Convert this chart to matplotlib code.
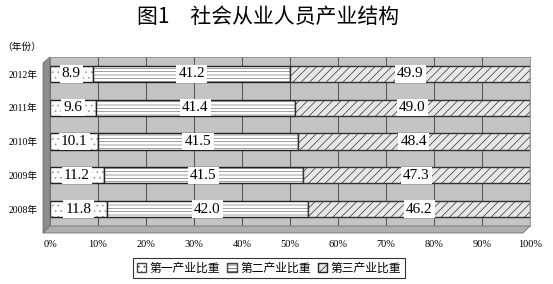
import matplotlib as mpl
import numpy as np
import matplotlib.pyplot as plt
from matplotlib.patches import Polygon, Patch

years = ['2008年', '2009年', '2010年', '2011年', '2012年']
primary = [11.8, 11.2, 10.1, 9.6, 8.9]
secondary = [42.0, 41.5, 41.5, 41.4, 41.2]
tertiary = [46.2, 47.3, 48.4, 49.0, 49.9]
series_names = ['第一产业比重', '第二产业比重', '第三产业比重']
xtick_vals = list(range(0, 101, 10))

plt.rcParams['font.family'] = ['Noto Sans CJK SC', 'DejaVu Sans']
mpl.rcParams['hatch.linewidth'] = 0.5
serif_cjk = ['Liberation Serif', 'Noto Sans CJK SC']

dpi = 100
fig = plt.figure(dpi=dpi, figsize=(553 / dpi, 284 / dpi))
W, H = 553.0, 284.0
ax = fig.add_axes([50 / W, 1 - 226 / H, 480 / W, 169 / H])
ax.set_facecolor('#c4c4c4')

# fake 3d side wall and floor
fig.patches.append(Polygon([[43 / W, 1 - 233 / H], [50 / W, 1 - 226 / H],
                            [50 / W, 1 - 57 / H], [43 / W, 1 - 63 / H]],
                           closed=True, transform=fig.transFigure,
                           facecolor='#8c8c8c', edgecolor='#707070', lw=0.6))
fig.patches.append(Polygon([[43 / W, 1 - 233 / H], [523 / W, 1 - 233 / H],
                            [530 / W, 1 - 226 / H], [50 / W, 1 - 226 / H]],
                           closed=True, transform=fig.transFigure,
                           facecolor='#b0b0b0', edgecolor='#707070', lw=0.6))

y = np.arange(len(years))
h = 0.48
p = np.array(primary)
s = np.array(secondary)
t = np.array(tertiary)

ax.barh(y, p, h, color='white', edgecolor='#999999', hatch='...', lw=0, zorder=3)
ax.barh(y, p, h, color='none', edgecolor='#222222', lw=1.0, zorder=3)
ax.barh(y, s, h, left=p, color='white', edgecolor='#777777', hatch='-----', lw=0, zorder=3)
ax.barh(y, s, h, left=p, color='none', edgecolor='#222222', lw=1.0, zorder=3)
ax.barh(y, t, h, left=p + s, color='#e8e8e8', edgecolor='#333333', hatch='////', lw=1.0, zorder=3)

box = dict(boxstyle='square,pad=0.15', facecolor='white', edgecolor='none')
for i in range(len(years)):
    for left, val in ((0, p[i]), (p[i], s[i]), (p[i] + s[i], t[i])):
        ax.text(left + val / 2, y[i], '%.1f' % val, ha='center', va='center',
                fontsize=11, family='Liberation Serif', bbox=box, zorder=5)

ax.set_xlim(0, 100)
ax.set_ylim(-0.5, len(years) - 0.5)
ax.set_xticks(xtick_vals)
ax.set_xticklabels(['%d%%' % v for v in xtick_vals], fontsize=7.5,
                   family='Liberation Serif')
ax.set_yticks(y)
ax.set_yticklabels(years, fontsize=7, family=serif_cjk)
ax.tick_params(length=0)
ax.tick_params(axis='x', pad=10)
ax.tick_params(axis='y', pad=9)
ax.grid(axis='x', color='#5a5a5a', lw=0.8, zorder=0)
for sp in ax.spines.values():
    sp.set_color('#8c8c8c')
    sp.set_linewidth(0.6)

fig.text(22 / W, 1 - 47 / H, '（年份）', fontsize=7, ha='center', va='center')
fig.text(268 / W, 1 - 17 / H, '图1　社会从业人员产业结构', fontsize=15,
         ha='center', va='center')

handles = [Patch(facecolor='white', edgecolor='#444444', hatch='...'),
           Patch(facecolor='white', edgecolor='#444444', hatch='-----'),
           Patch(facecolor='#e8e8e8', edgecolor='#222222', hatch='////')]
leg = fig.legend(handles, series_names, loc='center', ncol=3,
                 bbox_to_anchor=(269 / W, 1 - 268 / H), fontsize=8.5,
                 frameon=True, fancybox=False, handlelength=0.8,
                 handleheight=0.8, handletextpad=0.3, columnspacing=0.6,
                 borderpad=0.3)
leg.get_frame().set_edgecolor('black')
leg.get_frame().set_linewidth(0.8)

fig.savefig('out.png', dpi=dpi)
